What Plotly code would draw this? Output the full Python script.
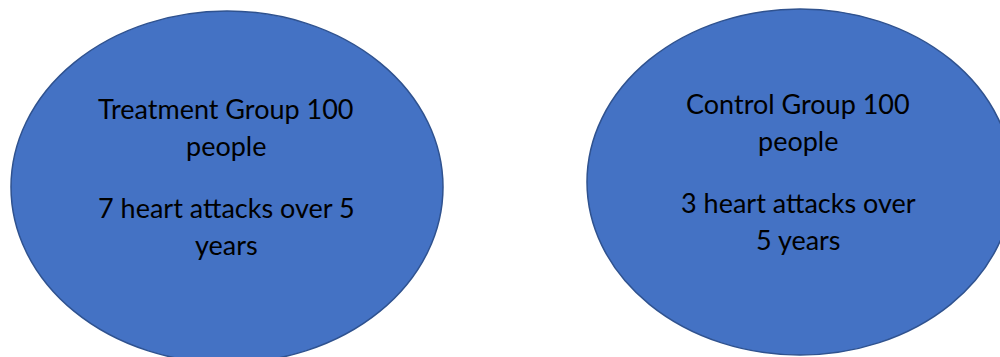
import plotly.graph_objects as go

# Diagram content
groups = ["Treatment Group", "Control Group"]
group_sizes = [100, 100]
heart_attacks = [7, 3]
years = [5, 5]

left_lines = [f"{groups[0]} {group_sizes[0]}", "people",
              f"{heart_attacks[0]} heart attacks over {years[0]}", "years"]
right_lines = [f"{groups[1]} {group_sizes[1]}", "people",
               f"{heart_attacks[1]} heart attacks over", f"{years[1]} years"]

W, H = 1000, 357
fig = go.Figure()

fill = "#4472C4"
edge = "#2F528F"

ellipses = [
    dict(cx=227, cy=187, rx=216, ry=176),
    dict(cx=800, cy=182, rx=213, ry=173),
]
for e in ellipses:
    fig.add_shape(type="circle", xref="x", yref="y",
                  x0=e["cx"] - e["rx"], x1=e["cx"] + e["rx"],
                  y0=e["cy"] - e["ry"], y1=e["cy"] + e["ry"],
                  fillcolor=fill, line=dict(color=edge, width=1.5), layer="below")

font = dict(family="Lato, Open Sans, sans-serif", size=27, color="#000000")
left_y = [108, 145, 207, 244]
right_y = [103, 140, 202, 239]
for txt, y in zip(left_lines, left_y):
    fig.add_annotation(x=226, y=y, text=txt, showarrow=False, font=font,
                       xanchor="center", yanchor="middle")
for txt, y in zip(right_lines, right_y):
    fig.add_annotation(x=798, y=y, text=txt, showarrow=False, font=font,
                       xanchor="center", yanchor="middle")

fig.update_xaxes(range=[0, W], visible=False, fixedrange=True)
fig.update_yaxes(range=[H, 0], visible=False, fixedrange=True)
fig.update_layout(width=W, height=H, margin=dict(l=0, r=0, t=0, b=0),
                  plot_bgcolor="white", paper_bgcolor="white", showlegend=False)
fig.write_html("out.html", config={"displayModeBar": False},
               post_script="document.body.style.margin='0';document.body.style.overflow='hidden';")
